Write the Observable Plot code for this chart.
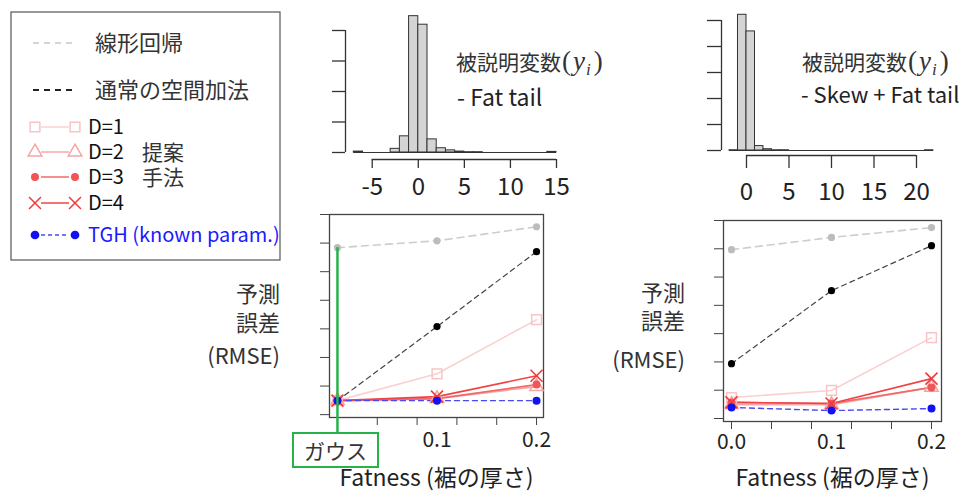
<!DOCTYPE html>
<html><head><meta charset="utf-8">
<script src="https://cdn.jsdelivr.net/npm/d3@7"></script>
<script src="https://cdn.jsdelivr.net/npm/@observablehq/plot@0.6"></script>
<style>
body{margin:0;background:#fff;}
#root{position:relative;width:962px;height:498px;overflow:hidden;font-family:"Noto Sans CJK JP",sans-serif;color:#333;background:#fff;}
.t{position:absolute;white-space:nowrap;line-height:1;}
.m{font-family:"Liberation Serif",serif;font-style:italic;}
.p{font-family:"Liberation Serif",serif;}
</style></head><body><div id="root"></div>
<script>
// ---------- data ----------
const fatness = [0, 0.1, 0.2];
// Panel A: Fat tail
const fatLinear = [5.84, 6.08, 6.57];
const fatGam    = [0.49, 3.08, 5.70];
const fatD1     = [0.49, 1.43, 3.32];
const fatD2     = [0.49, 0.56, 0.98];
const fatD3     = [0.49, 0.56, 1.05];
const fatD4     = [0.49, 0.63, 1.36];
const fatTGH    = [0.49, 0.49, 0.49];
// Panel B: Skew + Fat tail
const skewLinear = [5.97, 6.40, 6.75];
const skewGam    = [1.94, 4.52, 6.11];
const skewD1     = [0.74, 0.99, 2.86];
const skewD2     = [0.49, 0.49, 1.10];
const skewD3     = [0.57, 0.53, 1.10];
const skewD4     = [0.57, 0.53, 1.41];
const skewTGH    = [0.39, 0.28, 0.35];
const rmseTicks = [0, 1, 2, 3, 4, 5, 6, 7];
const fatnessTicks = [0, 0.04, 0.08, 0.12, 0.16, 0.2];
const fatLabelX = [0.1, 0.2];
const fatLabelText = ["0.1", "0.2"];
const skewLabelX = [0, 0.1, 0.2];
const skewLabelText = ["0.0", "0.1", "0.2"];
const yLabelLines = ["予測", "誤差", "(RMSE)"];
const xLabelText = "Fatness (裾の厚さ)";
// histograms (bin start, width 1)
const histFatBins   = [-7,-6,-5,-4,-3,-2,-1,0,1,2,3,4,5,6,7,8,9,10,11,12,13,14];
const histFatCounts = [3,0,0,0,12,53,447,419,43,14,7,3,1,1,0,0,0,0,0,0,0,2];
const histFatXTicks = [-5, 0, 5, 10, 15];
const histFatYTicks = [0, 100, 200, 300, 400];
const histSkewBins   = [-2,-1,0,1,2,3,4,5,6,7,8,9,10,11,12,13,14,15,16,17,18,19,20,21];
const histSkewCounts = [1,522,458,17,5,1,1,0,0,0,0,0,0,0,0,0,0,0,0,0,0,0,0,1];
const histSkewXTicks = [0, 5, 10, 15, 20];
const histSkewYTicks = [0, 100, 200, 300, 400, 500];
const legendLabels = ["線形回帰", "通常の空間加法", "D=1", "D=2", "D=3", "D=4", "TGH (known param.)"];

// ---------- styles ----------
const FONT = "'Noto Sans CJK JP', sans-serif";
const seriesStyle = [
  {line:{stroke:"#cdcdcd", strokeWidth:1.6, strokeDasharray:"7,5"}, dot:{symbol:"circle", r:3.6, fill:"#bcbcbc"}},
  {line:{stroke:"#444", strokeWidth:1.2, strokeDasharray:"5,4"}, dot:{symbol:"circle", r:3.6, fill:"#000"}},
  {line:{stroke:"#fbd0d0", strokeWidth:1.6}, dot:{symbol:"square", r:5.5, stroke:"#f8c4c4", fill:"none", strokeWidth:1.5}},
  {line:{stroke:"#f6a8a8", strokeWidth:1.6}, dot:{symbol:"triangle", r:5, stroke:"#f4a4a4", fill:"none", strokeWidth:1.5}},
  {line:{stroke:"#f06a6a", strokeWidth:1.6}, dot:{symbol:"circle", r:4, fill:"#f05656"}},
  {line:{stroke:"#f04444", strokeWidth:1.6}, dot:{symbol:"times", r:5.5, stroke:"#f03a3a", strokeWidth:1.6}},
  {line:{stroke:"#4848f4", strokeWidth:1.4, strokeDasharray:"5,4"}, dot:{symbol:"circle", r:4, fill:"#1212f0"}}
];

const root = document.getElementById("root");
function place(el, left, top) {
  el.style.position = "absolute";
  el.style.left = left + "px";
  el.style.top = top + "px";
  el.style.background = "transparent";
  el.style.overflow = "visible";
  root.appendChild(el);
}
function addText(html, left, top, size, extra) {
  const d = document.createElement("div");
  d.className = "t";
  d.innerHTML = html;
  d.style.left = left + "px";
  d.style.top = top + "px";
  d.style.fontSize = size + "px";
  if (extra) Object.assign(d.style, extra);
  root.appendChild(d);
  return d;
}

// ---------- line panels ----------
function linePanel(o) {
  const marks = [
    Plot.frame({stroke:"#444", strokeWidth:1.3}),
    Plot.axisY({ticks: rmseTicks, tickSize: 9, tickFormat: () => "", label: null, stroke:"#444"}),
    Plot.axisX({ticks: fatnessTicks, tickSize: 8, tickFormat: () => "", label: null, stroke:"#444"}),
    Plot.text(o.labelX.map((x, i) => ({x, t: o.labelText[i]})), {x:"x", text:"t", frameAnchor:"bottom", dy:o.tickDy, fontSize:21, fill:"#222"}),
    Plot.text([xLabelText], {text: d => d, frameAnchor:"bottom", dy:o.xlabDy, fontSize:23, fill:"#222"})
  ];
  o.series.forEach((vals, k) => {
    const rows = fatness.map((f, i) => ({f, v: vals[i]}));
    marks.push(Plot.line(rows, {x:"f", y:"v", ...seriesStyle[k].line}));
  });
  o.series.forEach((vals, k) => {
    const rows = fatness.map((f, i) => ({f, v: vals[i]}));
    marks.push(Plot.dot(rows, {x:"f", y:"v", ...seriesStyle[k].dot}));
  });
  if (o.gauss) {
    marks.push(Plot.ruleX([0], {y1: o.series[0][0], y2: o.yDomain[0] - 0.525, stroke:"#27b24a", strokeWidth:2.5}));
  }
  const svg = Plot.plot({
    width: o.width, height: o.height,
    marginLeft: o.mL, marginRight: o.mR, marginTop: o.mT, marginBottom: o.mB,
    x: {domain: o.xDomain, axis: null},
    y: {domain: o.yDomain, axis: null},
    style: {fontFamily: FONT, color: "#333", background: "transparent", overflow: "visible"},
    marks
  });
  place(svg, o.left, o.top);
  // y-axis title, right aligned
  yLabelLines.forEach((s, i) => {
    addText(s, o.ylabRight - 120, o.ylabTops[i], 22, {width:"120px", textAlign:"right", color:"#333"});
  });
}

linePanel({
  left:200, top:200, width:360, height:298, mL:129, mR:17, mT:14, mB:81,
  xDomain:[-0.008, 0.207], yDomain:[-0.1, 7],
  series:[fatLinear, fatGam, fatD1, fatD2, fatD3, fatD4, fatTGH],
  labelX: fatLabelX, labelText: fatLabelText, tickDy:29, xlabDy:68,
  ylabRight:280, ylabTops:[281, 310, 343], gauss:true
});
linePanel({
  left:600, top:200, width:362, height:298, mL:123, mR:21, mT:20, mB:77,
  xDomain:[-0.008, 0.21], yDomain:[-0.106, 7],
  series:[skewLinear, skewGam, skewD1, skewD2, skewD3, skewD4, skewTGH],
  labelX: skewLabelX, labelText: skewLabelText, tickDy:27, xlabDy:64,
  ylabRight:685, ylabTops:[280, 308, 347], gauss:false
});

// ---------- histograms ----------
function histPanel(o) {
  const rows = o.bins.map((b, i) => ({b, c: o.counts[i]}));
  const last = o.bins[o.bins.length - 1] + 1;
  const svg = Plot.plot({
    width: o.width, height: o.height,
    marginLeft: o.mL, marginRight: o.mR, marginTop: o.mT, marginBottom: o.mB,
    x: {domain: o.xDomain, axis: null},
    y: {domain: o.yDomain, axis: null},
    style: {fontFamily: FONT, color: "#222", background: "transparent", overflow: "visible"},
    marks: [
      Plot.ruleY([0], {x1: o.bins[0], x2: last, stroke:"#333", strokeWidth:1}),
      Plot.rect(rows.filter(d => d.c > 0), {x1: d => d.b, x2: d => d.b + 1, y1: 0, y2: "c", fill:"#d4d4d4", stroke:"#333", strokeWidth:1}),
      Plot.ruleX([o.xDomain[0]], {y1: 0, y2: o.yTicks[o.yTicks.length - 1], stroke:"#333", strokeWidth:1.3}),
      Plot.axisY({ticks: o.yTicks, tickSize: o.yTickSize, tickFormat: () => "", label: null, stroke:"#333", strokeWidth:1.3}),
      Plot.ruleY([o.yDomain[0]], {x1: o.xTicks[0], x2: o.xTicks[o.xTicks.length - 1], stroke:"#333", strokeWidth:1.3}),
      Plot.axisX({ticks: o.xTicks, tickSize: o.xTickSize, tickPadding: o.pad, tickFormat: d => String(d), label: null, fontSize: 24, stroke:"#333", strokeWidth:1.3})
    ]
  });
  place(svg, o.left, o.top);
}
histPanel({
  left:290, top:0, width:330, height:200, mL:55, mR:64, mT:30, mB:41,
  xDomain:[-7.9, 15], yDomain:[-23, 400],
  bins: histFatBins, counts: histFatCounts, xTicks: histFatXTicks, yTicks: histFatYTicks,
  yTickSize:13, xTickSize:9, pad:9
});
histPanel({
  left:690, top:0, width:272, height:200, mL:31, mR:20, mT:20, mB:45,
  xDomain:[-2.94, 23.06], yDomain:[-19.2, 500],
  bins: histSkewBins, counts: histSkewCounts, xTicks: histSkewXTicks, yTicks: histSkewYTicks,
  yTickSize:14, xTickSize:13, pad:14
});

// histogram annotations
const yi = '<span class="p" style="font-size:27px;margin-left:1px">(</span><span class="m" style="font-size:27px;margin-left:2px">y</span><sub class="m" style="font-size:17px;margin-left:1px">i</sub><span class="p" style="font-size:27px;margin-left:3px">)</span>';
addText("被説明変数" + yi, 456, 48, 21);
addText("- Fat tail", 457, 85, 23, {color:"#222"});
addText("被説明変数" + yi, 802, 48, 21);
addText("- Skew + Fat tail", 801, 82, 22, {color:"#222"});

// Gauss box
addText("ガウス", 292, 432, 21, {width:"87px", height:"36px", boxSizing:"border-box", border:"2px solid #27b24a", textAlign:"center", lineHeight:"32px", background:"#fff"});

// ---------- legend ----------
const leg = d3.create("svg").attr("width", 290).attr("height", 270);
leg.append("rect").attr("x", 11).attr("y", 12).attr("width", 269).attr("height", 248)
  .attr("fill", "#fff").attr("stroke", "#555").attr("stroke-width", 1.2);
const legY = [43, 90, 127, 152, 177, 203, 235];
const legSym = [null, null, d3.symbolSquare, d3.symbolTriangle, d3.symbolCircle, d3.symbolTimes, d3.symbolCircle];
const legSize = [0, 0, 95, 80, 50, 95, 60];
legendLabels.forEach((lab, k) => {
  const y = legY[k];
  const st = seriesStyle[k];
  const hasSym = !!legSym[k];
  leg.append("line").attr("x1", hasSym ? 41 : 33).attr("x2", hasSym ? 69 : 77).attr("y1", y).attr("y2", y)
    .attr("stroke", k === 0 ? "#c8c8c8" : k === 1 ? "#222" : st.line.stroke)
    .attr("stroke-width", k === 1 ? 2 : 1.5)
    .attr("stroke-dasharray", k === 0 ? "6,5" : k === 1 ? "6,5" : k === 6 ? "4,3" : null);
  if (hasSym) {
    [35, 75].forEach(x => {
      leg.append("path").attr("d", d3.symbol(legSym[k], legSize[k])())
        .attr("transform", `translate(${x},${y})`)
        .attr("fill", st.dot.fill === "none" || !st.dot.fill ? "none" : st.dot.fill)
        .attr("stroke", st.dot.stroke || "none")
        .attr("stroke-width", 1.5);
    });
  }
  leg.append("text").attr("x", k < 2 ? 95 : 88).attr("y", y).attr("dy", "0.36em")
    .attr("font-family", FONT).attr("font-size", k < 2 ? 22 : 20)
    .attr("fill", k === 6 ? "#1a1aff" : k < 2 ? "#333" : "#111").text(lab);
});
leg.append("text").attr("x", 142).attr("y", 152).attr("dy", "0.36em").attr("font-family", FONT).attr("font-size", 21).attr("fill", "#333").text("提案");
leg.append("text").attr("x", 142).attr("y", 177).attr("dy", "0.36em").attr("font-family", FONT).attr("font-size", 21).attr("fill", "#333").text("手法");
place(leg.node(), 0, 0);
</script></body></html>
